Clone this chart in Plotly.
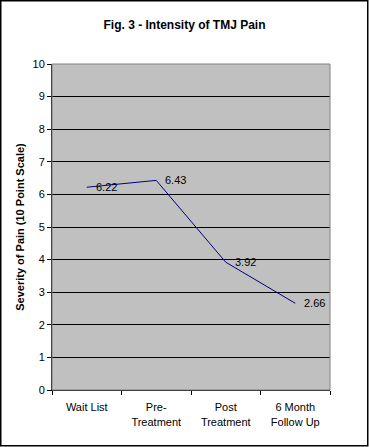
import plotly.graph_objects as go

categories = ["Wait List", "Pre-<br>Treatment", "Post<br>Treatment", "6 Month<br>Follow Up"]
values = [6.22, 6.43, 3.92, 2.66]
labels = ["6.22", "6.43", "3.92", "2.66"]
y_ticks = list(range(0, 11))

W, H = 369, 447
L, R, T, B = 52, 39, 64, 57
pw, ph = W - L - R, H - T - B

fig = go.Figure()
fig.add_trace(go.Scatter(
    x=categories, y=values, mode="lines",
    line=dict(color="#000080", width=1), hoverinfo="skip", showlegend=False,
))
for c, v, t in zip(categories, values, labels):
    fig.add_annotation(x=c, y=v, text=t, showarrow=False, xanchor="left",
                       yanchor="middle", xshift=7,
                       font=dict(family="Liberation Sans, Arial", size=11, color="black"))

# plot-area border (gray top/right)
fig.add_shape(type="rect", xref="paper", yref="paper", x0=0, x1=1, y0=0, y1=1,
              line=dict(color="#808080", width=1), layer="above")
# outer chart border
fig.add_shape(type="rect", xref="paper", yref="paper",
              x0=(0.75 - L) / pw, x1=(W - 1.25 - L) / pw,
              y0=-(B - 1.25) / ph, y1=1 + (T - 0.75) / ph,
              line=dict(color="black", width=1.5), layer="above")

fig.update_layout(
    width=W, height=H,
    margin=dict(l=L, r=R, t=T, b=B),
    paper_bgcolor="white", plot_bgcolor="#c0c0c0",
    font=dict(family="Liberation Sans, Arial", size=11, color="black"),
    title=dict(text="<b>Fig. 3 - Intensity of TMJ Pain</b>", x=0.5, xref="container",
               xanchor="center", y=1 - 25 / H, yanchor="middle",
               font=dict(size=12)),
    xaxis=dict(type="category", range=[-0.5, 3.5], tickson="boundaries",
               ticks="outside", ticklen=4, tickcolor="black", showgrid=False,
               showline=True, linecolor="black", linewidth=1, zeroline=False,
               ticklabelstandoff=7, fixedrange=True),
    yaxis=dict(range=[0, 10], tickvals=y_ticks, ticks="outside", ticklen=4,
               tickcolor="black", showgrid=True, gridcolor="black", gridwidth=1,
               showline=True, linecolor="black", linewidth=1, zeroline=False,
               title=dict(text="<b>Severity of Pain (10 Point Scale)</b>", standoff=5,
                          font=dict(size=11)),
               fixedrange=True),
)

fig.write_html("out.html", config={"displayModeBar": False},
               post_script="document.body.style.margin='0';document.body.style.overflow='hidden';")
